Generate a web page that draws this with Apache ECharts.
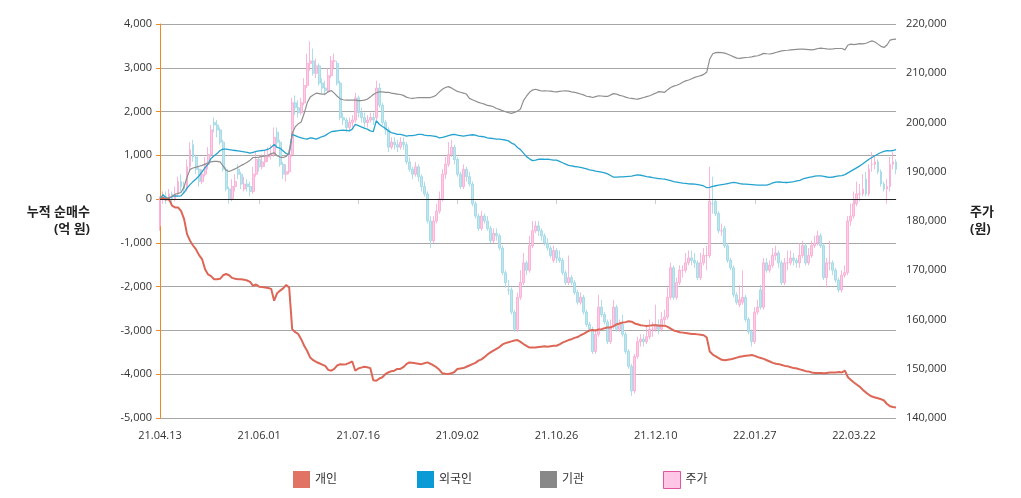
<!DOCTYPE html>
<html>
<head>
<meta charset="utf-8">
<script src="https://cdn.jsdelivr.net/npm/echarts@6/dist/echarts.min.js"></script>
<style>
  html, body { margin: 0; padding: 0; background: #fff; }
  #chart { width: 1021px; height: 498px; }
</style>
</head>
<body>
<div id="chart"></div>
<script>
// 거래일 (월별)
const tradingDays = [
  ["21.04", [13,14,15,16,19,20,21,22,23,26,27,28,29,30]],
  ["21.05", [3,4,6,7,10,11,12,13,14,17,18,20,21,24,25,26,27,28,31]],
  ["21.06", [1,2,3,4,7,8,9,10,11,14,15,16,17,18,21,22,23,24,25,28,29,30]],
  ["21.07", [1,2,5,6,7,8,9,12,13,14,15,16,19,20,21,22,23,26,27,28,29,30]],
  ["21.08", [2,3,4,5,6,9,10,11,12,13,17,18,19,20,23,24,25,26,27,30,31]],
  ["21.09", [1,2,3,6,7,8,9,10,13,14,15,16,17,23,24,27,28,29,30]],
  ["21.10", [1,5,6,7,8,12,13,14,15,18,19,20,21,22,25,26,27,28,29]],
  ["21.11", [1,2,3,4,5,8,9,10,11,12,15,16,17,18,19,22,23,24,25,26,29,30]],
  ["21.12", [1,2,3,6,7,8,9,10,13,14,15,16,17,20,21,22,23,24,27,28,29,30]],
  ["22.01", [3,4,5,6,7,10,11,12,13,14,17,18,19,20,21,24,25,26,27,28]],
  ["22.02", [3,4,7,8,9,10,11,14,15,16,17,18,21,22,23,24,25,28]],
  ["22.03", [2,3,4,7,8,10,11,14,15,16,17,18,21,22,23,24,25,28,29,30,31]],
  ["22.04", [1,4,5,6,7,8,11]]
];
const categories = [];
tradingDays.forEach(([ym, days]) => {
  days.forEach(d => categories.push(ym + "." + String(d).padStart(2, "0")));
});

// 개인 누적 순매수 (억 원)
const individual = [
  0,10,-10,0,-150,-190,-190,-270,-450,-800,
  -950,-1060,-1150,-1280,-1370,-1600,-1720,-1760,-1830,-1830,
  -1820,-1740,-1710,-1740,-1800,-1820,-1830,-1830,-1840,-1860,
  -1890,-1980,-1950,-2000,-2010,-2020,-2030,-2050,-2320,-2150,
  -2090,-2040,-1960,-2020,-2970,-3040,-3080,-3200,-3350,-3470,
  -3620,-3680,-3720,-3750,-3780,-3810,-3900,-3920,-3880,-3800,
  -3770,-3780,-3770,-3740,-3710,-3920,-3870,-3850,-3830,-3840,
  -3860,-4140,-4150,-4100,-4070,-4000,-3960,-3930,-3920,-3880,
  -3880,-3840,-3770,-3730,-3740,-3750,-3760,-3770,-3750,-3730,
  -3760,-3800,-3840,-3900,-3980,-3990,-3995,-3980,-3950,-3880,
  -3870,-3860,-3830,-3800,-3770,-3740,-3690,-3660,-3610,-3550,
  -3500,-3460,-3420,-3380,-3320,-3290,-3270,-3250,-3230,-3220,
  -3260,-3310,-3350,-3390,-3390,-3390,-3380,-3370,-3360,-3370,
  -3360,-3350,-3350,-3320,-3280,-3250,-3220,-3200,-3170,-3150,
  -3110,-3080,-3040,-3000,-2990,-3000,-2980,-2970,-2950,-2930,
  -2930,-2900,-2860,-2840,-2820,-2810,-2790,-2800,-2840,-2860,
  -2880,-2890,-2900,-2890,-2880,-2880,-2890,-2890,-2890,-2920,
  -2960,-3000,-3020,-3040,-3050,-3060,-3070,-3080,-3080,-3090,
  -3100,-3110,-3160,-3480,-3550,-3590,-3630,-3670,-3680,-3670,
  -3660,-3640,-3620,-3600,-3590,-3580,-3570,-3560,-3580,-3610,
  -3630,-3650,-3680,-3710,-3740,-3760,-3770,-3790,-3810,-3820,
  -3840,-3860,-3870,-3890,-3910,-3930,-3940,-3960,-3970,-3970,
  -3970,-3980,-3970,-3960,-3960,-3960,-3950,-3960,-3920,-4070,
  -4130,-4190,-4240,-4290,-4360,-4420,-4470,-4510,-4530,-4550,
  -4570,-4600,-4680,-4730,-4750,-4760
];

// 외국인 누적 순매수 (억 원)
const foreign = [
  0,100,30,20,60,75,70,75,150,250,
  330,400,460,530,620,720,800,930,990,1040,
  1110,1140,1140,1130,1120,1110,1100,1090,1080,1070,
  1050,1070,1090,1100,1110,1120,1140,1180,1250,1180,
  1160,1100,1040,1030,1480,1450,1420,1400,1380,1370,
  1400,1390,1370,1400,1430,1450,1500,1540,1550,1560,
  1570,1575,1570,1560,1600,1710,1680,1650,1620,1600,
  1560,1540,1790,1710,1660,1620,1560,1520,1500,1480,
  1480,1460,1440,1450,1450,1460,1480,1480,1460,1450,
  1450,1440,1430,1400,1410,1430,1450,1470,1480,1460,
  1450,1440,1450,1460,1470,1460,1440,1430,1420,1400,
  1390,1380,1370,1370,1360,1350,1330,1280,1250,1180,
  1130,1050,970,920,880,890,910,910,910,915,
  900,890,890,860,830,800,770,760,745,735,
  725,710,690,670,655,640,630,615,600,575,
  540,500,500,510,510,515,520,525,540,555,
  545,530,515,505,490,480,470,460,455,440,
  420,400,390,375,365,360,350,345,340,330,
  320,300,260,270,290,305,320,330,340,355,
  370,380,370,355,345,340,335,330,325,320,
  320,320,320,340,370,390,395,385,380,380,
  390,400,415,430,460,480,495,510,525,530,
  530,520,505,495,505,520,530,535,560,600,
  640,680,720,760,810,860,910,950,990,1030,
  1065,1090,1105,1100,1110,1130
];

// 기관 누적 순매수 (억 원)
const institution = [
  0,40,20,30,60,110,130,150,280,500,
  680,710,730,750,770,800,830,850,860,860,
  850,760,660,630,660,690,730,770,800,840,
  890,950,950,960,975,985,990,1040,1060,990,
  960,950,975,1060,1500,1650,1720,1760,1960,2200,
  2330,2380,2420,2410,2400,2400,2450,2480,2420,2350,
  2290,2270,2260,2260,2260,2260,2250,2250,2260,2280,
  2330,2390,2430,2450,2450,2440,2440,2420,2410,2400,
  2390,2370,2330,2310,2300,2310,2320,2320,2320,2320,
  2320,2340,2380,2450,2510,2550,2570,2540,2500,2460,
  2440,2420,2400,2300,2270,2240,2210,2190,2170,2140,
  2130,2110,2070,2050,2020,1995,1975,1960,1980,2010,
  2060,2250,2350,2440,2490,2510,2490,2470,2475,2470,
  2465,2455,2450,2460,2470,2475,2465,2450,2440,2420,
  2400,2380,2350,2340,2320,2340,2360,2355,2345,2345,
  2380,2410,2400,2370,2355,2330,2310,2300,2290,2285,
  2300,2320,2340,2360,2390,2420,2455,2450,2440,2500,
  2550,2580,2600,2630,2670,2700,2720,2750,2780,2800,
  2820,2850,2900,3200,3320,3345,3350,3345,3335,3310,
  3280,3250,3220,3215,3225,3235,3240,3250,3265,3275,
  3300,3330,3320,3315,3330,3350,3370,3385,3395,3400,
  3410,3415,3420,3425,3425,3420,3415,3410,3420,3440,
  3450,3440,3430,3425,3430,3440,3440,3440,3410,3520,
  3540,3530,3540,3550,3545,3560,3590,3615,3590,3540,
  3490,3465,3520,3630,3650,3655
];

// 주가 (원): [시가, 종가, 저가, 고가]
const price = [
  [179000,184500,178000,185000],[184500,185000,183500,186000],[185000,184500,183500,186000],[184500,185500,184000,186500],
  [185500,184500,183500,186000],[184500,185500,184000,187000],[185500,188000,185000,189000],[188000,187000,186000,189500],
  [187000,186500,185500,188000],[186500,191000,186000,192500],[191000,194500,190000,196000],[195500,193000,192000,196500],
  [193000,190500,189500,193500],[190500,188000,187000,191000],[188000,189500,187500,190500],[189500,191500,189000,193000],
  [191500,193500,190500,195000],[193500,198500,193000,199500],[200000,199500,198000,201000],[199500,198500,197000,200500],
  [198500,196000,195500,199000],[196000,190500,190000,196500],[190500,186500,186000,191000],[186500,184500,183500,187000],
  [184500,187000,184000,188500],[187000,188000,186000,189500],[190500,189500,188500,191500],[189500,187500,186500,190000],
  [186500,187500,186000,189000],[187500,187000,186000,188500],[187000,186000,185000,188000],[186000,189500,185500,191000],
  [189500,192500,189000,194000],[192500,191000,190000,193000],[191000,192000,190500,193500],[192000,193000,191000,194500],
  [193000,193500,192000,195000],[193500,193500,192500,195500],[193500,197000,193000,199000],[198000,196000,195000,199000],
  [196000,191500,191000,196500],[191500,189500,188500,192000],[189500,190000,188000,191500],[190000,193500,189500,194500],
  [193500,204000,193000,205000],[204000,203000,201500,205500],[203000,202000,201000,204500],[202000,204000,201500,205000],
  [204000,207500,203500,209000],[207500,212000,207000,214000],[212000,212500,210500,216500],[212500,210000,209500,215000],
  [210000,211500,209000,213000],[211500,208000,207500,212000],[208000,207000,206000,209000],[207000,206500,205500,208500],
  [206500,209500,206000,211000],[209500,212500,209000,213500],[212500,212500,211000,214000],[212000,208000,207500,212500],
  [208000,201000,200500,208500],[201000,200500,199500,202000],[200500,199000,198000,201000],[199000,200000,198500,201000],
  [200000,200500,199000,201500],[200500,205000,200000,206000],[205000,202000,201000,205500],[202000,201000,200000,203000],
  [201000,200000,199000,202000],[200000,200500,199000,201500],[200500,201000,200000,202000],[201000,200500,199500,202000],
  [201000,207000,200500,208500],[207000,203500,203000,208000],[203500,200000,199500,204000],[200000,198500,197500,200500],
  [198500,195000,194000,199000],[195000,196000,194500,197000],[196000,195500,194500,197000],[195500,195000,194000,196500],
  [195000,196000,194500,197000],[196000,195500,194500,197000],[195500,192000,191500,196000],[192000,190500,190000,193000],
  [190500,189500,188500,191000],[189500,191000,189000,192000],[191000,189000,188000,191500],[189000,187000,186000,189500],
  [187000,185500,185000,188000],[185500,180000,179500,186000],[180000,176000,174500,181000],[176000,180000,175500,181000],
  [180000,182000,179500,183500],[182000,184500,181500,186000],[184500,189500,184000,190500],[189500,191500,188500,193000],
  [191500,193500,191000,196000],[193500,195000,193000,196500],[195000,192500,191500,195500],[192500,189500,189000,193000],
  [189500,187000,186500,190000],[187000,190500,186500,191500],[190500,189000,188000,191000],[189000,187500,187000,190000],
  [187500,183500,183000,188000],[183500,181000,180500,184000],[181000,178500,178000,181500],[178500,181000,178000,182000],
  [181000,180000,179500,181500],[180000,178500,178000,181000],[178500,176000,175500,179000],[176000,177500,175500,178500],
  [177500,177000,176000,178500],[177000,174500,174000,177500],[174500,169500,169000,175000],[169500,167500,166500,170000],
  [166000,166000,165000,168000],[166000,161500,161000,166500],[161500,158000,157500,162000],[158000,164500,157500,165500],
  [164500,167500,164000,170000],[167500,171500,167000,173500],[171500,170000,169000,172000],[170000,175000,169500,177000],
  [175000,178000,174500,180000],[178000,179000,177500,180000],[179000,178000,177000,180000],[178000,177000,176000,178500],
  [177000,175500,175000,177500],[175500,174500,174000,176500],[174500,173000,172500,175000],[172000,174000,171500,175000],
  [174000,172500,171500,174500],[172500,172000,171500,174000],[172000,169500,169000,172500],[169500,167500,167000,170000],
  [167500,168500,167000,173000],[168500,167500,167000,169000],[167500,165500,165000,168000],[165500,163500,163000,166000],
  [163500,164500,163000,165500],[164500,161500,161000,165000],[161500,159000,158500,162000],[159000,158000,157500,159500],
  [158000,153500,153000,158500],[153500,157000,153000,158000],[157000,162500,156500,165000],[162500,161000,160500,164000],
  [161000,159500,159000,161500],[159500,155500,155000,160000],[155500,158500,155000,160000],[158500,162500,158000,164000],
  [162500,158000,157500,163000],[158000,159000,157500,160000],[159000,157000,156500,161000],[157000,153500,153000,157500],
  [153500,150500,150000,154000],[150500,145500,144500,151000],[145500,152500,145000,153000],[152500,155500,152000,156500],
  [155500,156000,154500,157000],[156000,155500,154500,157000],[155500,156500,155000,158500],[156500,158000,156000,160000],
  [158000,158000,156500,159500],[158000,159000,157500,163000],[159000,158000,157000,160000],[158000,160000,157500,161500],
  [160000,160500,159000,162000],[160500,164500,160000,166500],[164500,170500,164000,171500],[170500,164500,164000,171000],
  [164500,167500,164000,168500],[167500,170000,167000,171000],[170000,170000,168500,171000],[170000,171500,169500,173500],
  [171500,172500,171000,174000],[172500,172000,171000,174000],[172000,171500,170500,173500],[171500,168500,168000,172000],
  [168500,171500,168000,173500],[171500,173000,171000,174500],[173000,173000,170000,175000],[173000,184000,172500,191000],
  [183500,183500,181500,189000],[184000,181500,181000,184500],[181500,178000,177500,182000],[178000,178000,177000,179500],
  [178500,175000,174500,179000],[175000,172000,171500,175500],[172000,170500,170000,172500],[170500,165000,164500,171000],
  [165000,163500,163000,165500],[163000,164000,162500,167000],[163500,164500,163000,170000],[164500,160000,159500,165000],
  [160000,157500,157000,160500],[157500,155500,154500,158000],[155500,161500,155000,162500],[161500,162500,161000,164000],
  [166000,162500,162000,167000],[162500,171500,162000,172500],[171500,170000,169500,172500],[170000,171000,169500,172000],
  [171000,173000,170500,174500],[173000,173500,172000,175000],[173500,171500,170500,174000],[171500,167500,167000,172000],
  [167500,171500,167000,172500],[171500,171500,170000,174000],[171500,172500,171000,174000],[172500,172000,171000,173500],
  [172000,171500,170500,172500],[171500,173000,170500,175500],[173000,175000,172500,176000],[175000,171500,171000,175500],
  [171500,173000,171000,174500],[173000,175000,172500,176000],[175000,175500,174500,177000],[175500,177000,175000,178000],
  [177000,175000,174500,177500],[175000,168500,168000,175500],[168500,171500,166500,172500],[171500,171500,170000,176000],
  [171500,170000,169000,172000],[170000,168000,167500,170500],[168000,166000,165500,168500],[166000,169000,165500,170000],
  [169000,169500,168500,171000],[169500,180000,169000,181000],[180000,181000,179000,183500],[181000,183500,180500,186000],
  [183500,185500,183000,188000],[185500,185500,184000,187500],[185500,186500,185000,189500],[188500,185500,185000,190000],
  [185500,190500,185000,191500],[191500,191500,190000,194000],[191500,192000,190500,193000],[192000,190000,189500,192500],
  [190000,187500,187000,190500],[187500,186500,186000,188000],[186500,187000,183500,188500],[187000,191500,186000,193000],
  [191500,192000,190500,194000],[192000,190500,189500,192500]
];

const font = "'Open Sans', 'Noto Sans CJK KR', sans-serif";
const fmt = v => Number(v).toLocaleString("en-US");

function legendAt(left, item) {
  return {
    left: left, top: 466,
    itemWidth: 17, itemHeight: 17,
    textStyle: { fontFamily: font, fontSize: 12, color: "#333" },
    data: [item]
  };
}

const chart = echarts.init(document.getElementById("chart"));
chart.setOption({
  animation: false,
  textStyle: { fontFamily: font },
  grid: { left: 160, right: 125, top: 24, bottom: 80 },
  legend: [
    legendAt(288, { name: "개인", icon: "rect" }),
    legendAt(412, { name: "외국인", icon: "rect" }),
    legendAt(535, { name: "기관", icon: "rect" }),
    legendAt(658, { name: "주가", icon: "rect",
      itemStyle: { color: "#ffc6e6", borderColor: "#e0559f", borderWidth: 1, opacity: 1 } })
  ],
  xAxis: {
    type: "category",
    data: categories,
    boundaryGap: false,
    axisLine: { lineStyle: { color: "#cccccc" } },
    axisTick: { show: true, interval: 32, length: 5, lineStyle: { color: "#cccccc" } },
    axisLabel: { interval: 32, color: "#333", fontSize: 11, margin: 12, fontFamily: font },
    splitLine: { show: false }
  },
  yAxis: [
    {
      type: "value",
      position: "left",
      min: -5000, max: 4000, interval: 1000,
      name: "누적 순매수\n(억 원)",
      nameLocation: "middle",
      nameRotate: 0,
      nameGap: 70,
      nameTextStyle: { align: "right", fontWeight: "bold", fontSize: 13, color: "#222",
        lineHeight: 17, padding: [22, 0, 0, 0], fontFamily: font },
      axisLine: { show: true, lineStyle: { color: "#ee8a24" } },
      axisTick: { show: true, length: 4, lineStyle: { color: "#ee8a24" } },
      axisLabel: { formatter: fmt, color: "#333", fontSize: 11, margin: 8, fontFamily: font },
      splitLine: { show: true, lineStyle: { color: "#a6a6a6", width: 1 } }
    },
    {
      type: "value",
      position: "right",
      min: 140000, max: 220000, interval: 10000,
      name: "주가\n(원)",
      nameLocation: "middle",
      nameRotate: 0,
      nameGap: 74,
      nameTextStyle: { align: "left", fontWeight: "bold", fontSize: 13, color: "#222",
        lineHeight: 17, padding: [22, 0, 0, 0], fontFamily: font },
      axisLine: { show: false },
      axisTick: { show: false },
      axisLabel: { formatter: fmt, color: "#333", fontSize: 11, margin: 10, fontFamily: font },
      splitLine: { show: false }
    }
  ],
  series: [
    {
      name: "주가",
      type: "candlestick",
      yAxisIndex: 1,
      data: price,
      barWidth: "80%",
      z: 1,
      itemStyle: {
        color: "#ffc4e2",
        color0: "#b6e2ec",
        borderColor: "#f8acd2",
        borderColor0: "#9fd8e6",
        borderWidth: 1,
        opacity: 0.85
      }
    },
    {
      name: "개인",
      type: "line",
      yAxisIndex: 0,
      data: individual,
      showSymbol: false,
      z: 4,
      color: "#e07363",
      lineStyle: { color: "#dd6757", width: 2 },
      markLine: {
        silent: true,
        symbol: "none",
        label: { show: false },
        lineStyle: { color: "#222", width: 1, type: "solid" },
        data: [{ yAxis: 0 }]
      }
    },
    {
      name: "외국인",
      type: "line",
      yAxisIndex: 0,
      data: foreign,
      showSymbol: false,
      z: 3,
      color: "#0a9bd7",
      lineStyle: { color: "#25a3d0", width: 1.3 }
    },
    {
      name: "기관",
      type: "line",
      yAxisIndex: 0,
      data: institution,
      showSymbol: false,
      z: 3,
      color: "#888888",
      lineStyle: { color: "#8f8f8f", width: 1.2 }
    }
  ]
});
</script>
</body>
</html>
